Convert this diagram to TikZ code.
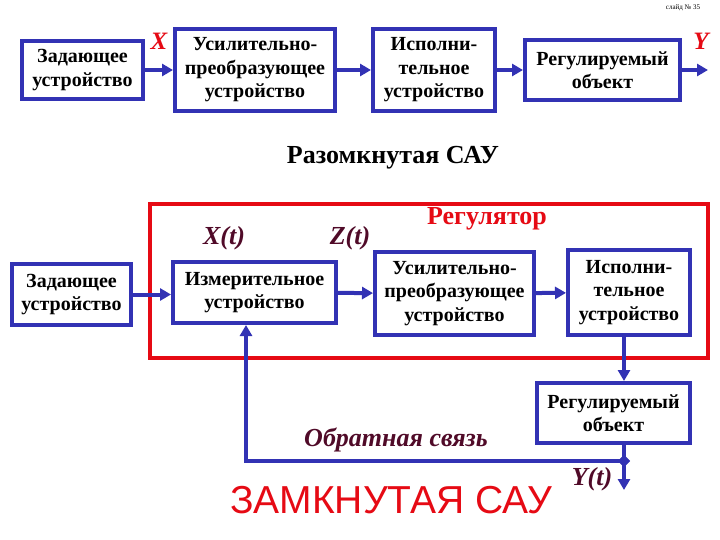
\documentclass[tikz,border=0pt]{standalone}
\usepackage{fontspec}
\setmainfont{Liberation Serif}
\newfontfamily\arialf{Liberation Sans}
\usetikzlibrary{arrows.meta,calc,shapes.geometric}
\begin{document}
\definecolor{bblue}{RGB}{50,50,180}
\definecolor{rred}{RGB}{230,10,20}
\definecolor{maroon}{RGB}{80,10,40}
\tikzset{
  blk/.style={draw=bblue,line width=4pt,fill=white,align=center,inner sep=2pt,font=\bfseries\fontsize{20}{23.5}\selectfont},
  arr/.style={draw=bblue,line width=4pt,-{Triangle[length=11pt,width=12pt]}},
  ln/.style={draw=bblue,line width=4pt},
  lbl/.style={font=\bfseries\itshape\fontsize{26}{28}\selectfont,text=maroon},
  rlbl/.style={font=\bfseries\itshape\fontsize{25}{28}\selectfont,text=rred}
}
\begin{tikzpicture}[x=1pt,y=-1pt]
\useasboundingbox (0,0) rectangle (720,540);
\fill[white] (0,0) rectangle (720,540);
\node[font=\fontsize{7}{8}\selectfont] (sl) at (683,8) {слайд № 35};
% top row
\node[blk,minimum width=121pt,minimum height=58pt] (z1) at (82.5,70) {Задающее\\устройство};
\node[blk,minimum width=160pt,minimum height=82pt] (u1) at (255,70) {Усилительно-\\преобразующее\\устройство};
\node[blk,minimum width=122pt,minimum height=82pt] (i1) at (434,70) {Исполни-\\тельное\\устройство};
\node[blk,minimum width=155pt,minimum height=60pt] (r1) at (602.5,70) {Регулируемый\\объект};
\coordinate (yo) at (708,70);
\draw[arr] (z1) -- (u1);
\draw[arr] (u1) -- (i1);
\draw[arr] (i1) -- (r1);
\draw[arr] (r1) -- (yo);
\node[rlbl] (xl) at (159,41) {X};
\node[rlbl] (yl) at (701,41) {Y};
\node[font=\bfseries\fontsize{26}{28}\selectfont] (raz) at (393,158) {Разомкнутая САУ};
% closed loop
\node[draw=rred,line width=3.5pt,minimum width=558pt,minimum height=154pt] (reg) at (429,281) {};
\node[font=\bfseries\fontsize{26}{28}\selectfont,text=rred] (regl) at (487,219) {Регулятор};
\node[lbl] (xt) at (224,238) {X(t)};
\node[lbl] (zt) at (350,238) {Z(t)};
\node[blk,minimum width=119pt,minimum height=61pt] (z2) at (71.5,294.5) {Задающее\\устройство};
\node[blk,minimum width=163pt,minimum height=61pt] (m2) at (254.5,292.5) {Измерительное\\устройство};
\node[blk,minimum width=159pt,minimum height=83pt] (u2) at (454.5,293.5) {Усилительно-\\преобразующее\\устройство};
\node[blk,minimum width=122pt,minimum height=85pt] (i2) at (629,292.5) {Исполни-\\тельное\\устройство};
\node[blk,minimum width=153pt,minimum height=60pt] (r2) at (613.5,413) {Регулируемый\\объект};
\coordinate (fx) at (624,0);
\coordinate (fbx) at (246,0);
\draw[arr] (z2.east) -- (z2.east -| m2.west);
\draw[arr] (m2) -- (u2);
\draw[arr] (u2) -- (i2);
\draw[arr] (i2.south -| fx) -- (r2.north -| fx);
\coordinate (dot) at (624,461);
\coordinate (yout) at (624,490);
\draw[ln] (r2.south -| fx) -- (dot);
\draw[arr] (dot) -- (yout);
\draw[arr] (dot) -| (m2.south -| fbx);
\node[draw=bblue,fill=bblue,diamond,inner sep=0pt,minimum size=12pt] (dm) at (dot) {};
\node[lbl] (ytl) at (592,479) {Y(t)};
\node[lbl] (obr) at (396,440) {Обратная связь};
\node[font=\arialf\fontsize{39}{42}\selectfont,text=rred] (zam) at (391,500) {ЗАМКНУТАЯ САУ};
\end{tikzpicture}
\end{document}
